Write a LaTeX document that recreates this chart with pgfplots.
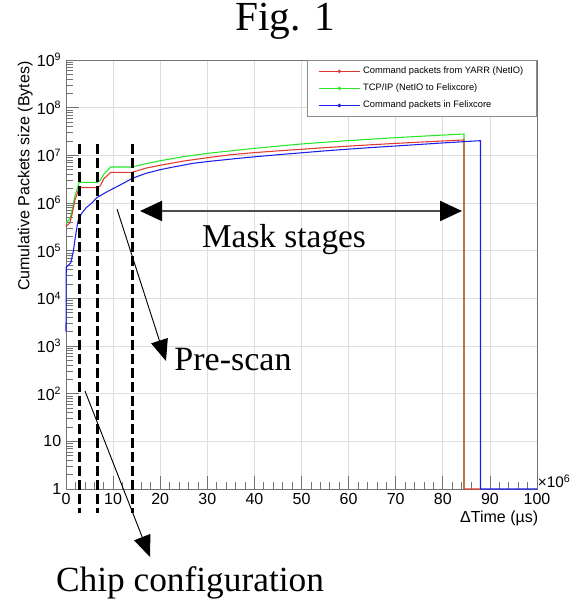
\documentclass[border=0pt]{standalone}
\usepackage{fontspec}
\setmainfont{Liberation Sans}
\newfontfamily\annfont{Liberation Serif}
\usepackage{pgfplots}
\usepackage{pgfplotstable}
\pgfplotsset{compat=1.18}
\usetikzlibrary{arrows.meta}

\definecolor{rootred}{RGB}{222,58,48}
\definecolor{rootgreen}{RGB}{40,230,40}
\definecolor{rootblue}{RGB}{30,30,235}
\definecolor{gridgray}{RGB}{222,222,222}

% cumulative size (bytes) vs Delta time (x 10^6 us)
\pgfplotstableread{
x y
0 3.2e5
0.8 3.8e5
1.3 6.0e5
1.9 1.15e6
2.8 2.1e6
6.6 2.1e6
7.3 2.3e6
8.0 3.2e6
9.5 4.4e6
14.0 4.4e6
15 4.7e6
17 5.4e6
20 6.2e6
25 7.6e6
30 8.9e6
35 1.03e7
40 1.14e7
45 1.24e7
50 1.34e7
55 1.45e7
60 1.56e7
65 1.67e7
70 1.78e7
75 1.89e7
80 2.0e7
84.5 2.1e7
84.5 1
88 1
}\yarr

\pgfplotstableread{
x y
0 3.8e5
0.8 4.6e5
1.3 7.0e5
1.9 1.4e6
2.8 2.7e6
6.6 2.7e6
7.3 3.0e6
8.0 4.0e6
9.5 5.7e6
14 5.7e6
15 6.0e6
17 6.7e6
20 7.7e6
25 9.4e6
30 1.1e7
35 1.24e7
40 1.4e7
45 1.56e7
50 1.73e7
55 1.88e7
60 2.04e7
65 2.19e7
70 2.35e7
75 2.5e7
80 2.66e7
84.5 2.8e7
84.5 1
}\tcpip

\pgfplotstableread{
x y
0 2.0e3
0.05 4.5e4
1.0 5.5e4
1.5 9.0e4
1.9 1.7e5
2.3 3.0e5
2.6 4.4e5
3.3 6.0e5
4.3 8.0e5
5.4 9.8e5
6.6 1.3e6
8.6 1.7e6
10 2.0e6
12.2 2.6e6
14.1 3.3e6
17 4.2e6
20 5.0e6
22.8 5.7e6
27 6.8e6
30 7.4e6
36.9 8.7e6
40 9.3e6
45 1.03e7
50 1.13e7
55 1.24e7
60 1.35e7
65 1.46e7
70 1.57e7
75 1.69e7
80 1.82e7
85 1.95e7
88 2.03e7
88 1
100 1
}\felix

\begin{document}
\begin{tikzpicture}
\begin{axis}[
    scale only axis,
    width=353.25pt, height=321.75pt,
    xmin=0, xmax=100,
    ymode=log, ymin=1, ymax=1e9,
    clip=false,
    xtick={0,10,...,100},
    minor x tick num=4,
    ytick={1,10,100,1000,1e4,1e5,1e6,1e7,1e8,1e9},
    yticklabels={1,10,10\textsuperscript{2},10\textsuperscript{3},10\textsuperscript{4},10\textsuperscript{5},10\textsuperscript{6},10\textsuperscript{7},10\textsuperscript{8},10\textsuperscript{9}},
    xtick pos=left, ytick pos=left,
    tick align=inside,
    major tick length=9.5pt, minor tick length=5pt,
    every tick/.style={black!55, line width=0.5pt},
    axis line style={black!55, line width=0.6pt},
    grid=major,
    major grid style={gridgray, line width=0.5pt},
    /pgf/number format/assume math mode=true,
    ticklabel style={font=\fontsize{12}{14}\selectfont},
    xlabel={ΔTime (µs)},
    ylabel={Cumulative Packets size (Bytes)},
    label style={font=\fontsize{12}{14}\selectfont},
    xlabel style={at={(axis description cs:1.003,-0.05)}, anchor=north east, inner sep=0pt},
    ylabel style={at={(axis description cs:-0.07,0.997)}, anchor=south east, inner sep=0pt},
    legend style={at={(rel axis cs:1,1)}, anchor=north east,
        draw=black!45, fill=white, line width=0.5pt,
        font=\fontsize{7}{8}\selectfont,
        inner xsep=8pt, inner ysep=3pt, row sep=2.2pt},
    legend cell align=left,
    legend image code/.code={
        \draw[#1] (0pt,0pt) -- (31pt,0pt);
        \fill[#1] (15.5pt,0pt) circle (0.9pt);},
]
\addplot[rootgreen, line width=0.8pt, forget plot] table[x=x,y=y] {\tcpip};
\addplot[rootred, line width=0.8pt] table[x=x,y=y] {\yarr};
\addlegendentry{Command packets from YARR (NetIO)}
\addlegendimage{rootgreen, line width=0.8pt}
\addlegendentry{TCP/IP (NetIO to Felixcore)}
\addplot[rootblue, line width=0.8pt] table[x=x,y=y] {\felix};
\addlegendentry{Command packets in Felixcore}

\pgfplotsinvokeforeach{2.8,6.6,14.1}{
  \draw[black, line width=2.2pt, dash pattern=on 7pt off 3.5pt]
    (axis cs:#1,1.7e7) -- (axis cs:#1,0.31);
}
\node[anchor=south west, inner sep=0.5pt, font=\fontsize{11.5}{13}\selectfont]
  at (rel axis cs:1,0) {×10\textsuperscript{6}};
\end{axis}

% annotations, in pixel units of the 570x602 picture
\begin{scope}[shift={(-49.5pt,366.75pt)}, x=0.75pt, y=-0.75pt]
\node[anchor=base, font=\annfont\fontsize{31}{36}\selectfont] at (285,31) {Fig. 1};
\draw[line width=1.5pt, black!70,
  {Triangle[length=16.5pt,width=15pt,black]}-{Triangle[length=16.5pt,width=15pt,black]}]
  (140,211) -- (462,211);
\node[anchor=base, font=\annfont\fontsize{25}{30}\selectfont] at (284,248) {Mask stages};
\draw[line width=0.7pt, black, -{Triangle[length=16pt,width=13pt]}] (117,209) -- (166,361);
\node[anchor=base, font=\annfont\fontsize{25.5}{30}\selectfont] at (233,371) {Pre-scan};
\draw[line width=0.7pt, black, -{Triangle[length=16pt,width=13pt]}] (85,391) -- (150,557);
\node[anchor=base, font=\annfont\fontsize{26.5}{30}\selectfont] at (190,591) {Chip configuration};
\pgfresetboundingbox
\path[use as bounding box] (0,0) rectangle (570,602);
\end{scope}
\end{tikzpicture}
\end{document}
